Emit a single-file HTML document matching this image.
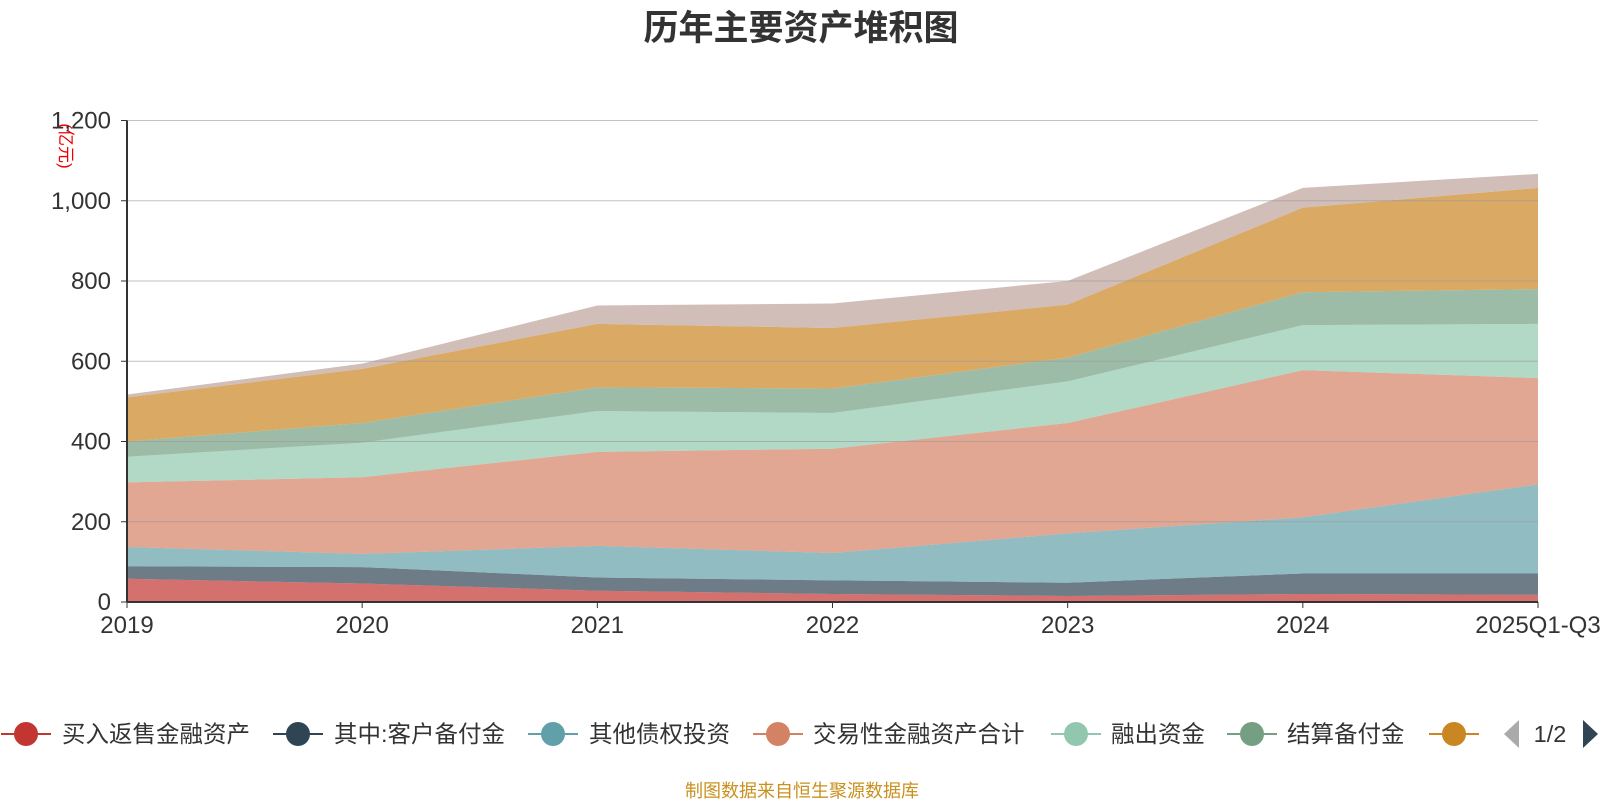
<!DOCTYPE html>
<html><head><meta charset="utf-8">
<style>
body{margin:0;background:#fff;width:1600px;height:800px;overflow:hidden;font-family:"Liberation Sans","Noto Sans CJK SC",sans-serif;}
svg text{font-family:"Liberation Sans","Noto Sans CJK SC",sans-serif;}
</style></head>
<body>
<svg id="chart" width="1600" height="800">
<text x="801" y="40" text-anchor="middle" font-size="35" font-weight="bold" fill="#333">历年主要资产堆积图</text>
<text transform="translate(60,146) rotate(90)" text-anchor="middle" font-size="17" fill="#e00">(亿元)</text>
<g id="areas"></g>
<g id="grid"></g>
<g id="axes"></g>
<g id="legend"></g>
<text x="802" y="797" text-anchor="middle" font-size="18" fill="#c8901e">制图数据来自恒生聚源数据库</text>
</svg>
<script>
const categories=["2019","2020","2021","2022","2023","2024","2025Q1-Q3"];
const seriesNames=["买入返售金融资产","其中:客户备付金","其他债权投资","交易性金融资产合计","融出资金","结算备付金","其他","其他2"];
const s1=[58,46,28,20,15,20,18];
const s2=[31,41,33,34,33,51,53];
const s3=[48,33,79,68,123,140,222];
const s4=[161,191,234,260,275,367,265];
const s5=[64,86,102,89,104,112,135];
const s6=[38,49,59,61,59,82,87];
const s7=[110,135,158,151,132,211,252];
const s8=[7,13,46,61,59,49,35];
const yTicks=[0,200,400,600,800,1000,1200];
const yTickLabels=["0","200","400","600","800","1,000","1,200"];
const series=[s1,s2,s3,s4,s5,s6,s7,s8];
const colors=["#c23531","#2f4554","#61a0a8","#d48265","#91c7ae","#749f83","#ca8622","#bda29a"];
const X0=127,X1=1538,Y0=602,Y1=120.5,YMAX=1200;
const xs=i=>X0+(X1-X0)*i/(categories.length-1);
const ys=v=>Y0-(Y0-Y1)*v/YMAX;
const NS="http://www.w3.org/2000/svg";
function mk(t,a,p){const e=document.createElementNS(NS,t);for(const k in a)e.setAttribute(k,a[k]);p.appendChild(e);return e;}
const areas=document.getElementById('areas');
let base=categories.map(()=>0);
series.forEach((s,si)=>{
  const top=base.map((b,i)=>b+s[i]);
  let d="M"+categories.map((c,i)=>xs(i)+","+ys(top[i])).join(" L");
  for(let i=categories.length-1;i>=0;i--)d+=" L"+xs(i)+","+ys(base[i]);
  d+=" Z";
  const p=mk('path',{d:d,fill:colors[si],'fill-opacity':0.7},areas);
  
  
  base=top;
});
const grid=document.getElementById('grid');
const axes=document.getElementById('axes');
yTicks.forEach((v,i)=>{
  if(v>0){const l=mk('line',{x1:X0,x2:X1,y1:ys(v),y2:ys(v),stroke:'#999','stroke-opacity':0.6},grid);
  
  }
  mk('line',{x1:X0-6,x2:X0,y1:ys(v),y2:ys(v),stroke:'#333'},axes);
  const t=mk('text',{x:X0-16,y:ys(v)+8,'text-anchor':'end','font-size':24,fill:'#333'},axes);
  t.textContent=yTickLabels[i];
  
  
});
mk('line',{x1:X0,x2:X0,y1:Y1,y2:Y0,stroke:'#333','stroke-width':2},axes);
mk('line',{x1:X0,x2:X1,y1:Y0,y2:Y0,stroke:'#333','stroke-width':2},axes);
categories.forEach((c,i)=>{
  mk('line',{x1:xs(i),x2:xs(i),y1:Y0,y2:Y0+6,stroke:'#333'},axes);
  const t=mk('text',{x:xs(i),y:Y0+31,'text-anchor':'middle','font-size':24,fill:'#333'},axes);
  t.textContent=c;
  
  
});
const lg=document.getElementById('legend');
const items=[[26,62],[298,334],[553,589],[778,813],[1076,1111],[1252,1287],[1454,null]];
items.forEach((it,i)=>{
  const g=mk('g',{},lg);
  
  
  mk('line',{x1:it[0]-25,x2:it[0]+25,y1:734,y2:734,stroke:colors[i],'stroke-width':2},g);
  mk('circle',{cx:it[0],cy:734,r:12,fill:colors[i]},g);
  if(it[1]!==null){const t=mk('text',{x:it[1],y:742,'font-size':23.5,fill:'#333'},g);t.textContent=seriesNames[i];}
});
const pg=mk('g',{},lg);


mk('polygon',{points:'1519,720 1519,748 1504,734',fill:'#aaa'},pg);
const pt=mk('text',{x:1550,y:742,'text-anchor':'middle','font-size':23.5,fill:'#333'},pg);pt.textContent="1/2";
mk('polygon',{points:'1583,720 1583,748 1598,734',fill:'#2f4554'},pg);
</script>
</body></html>
